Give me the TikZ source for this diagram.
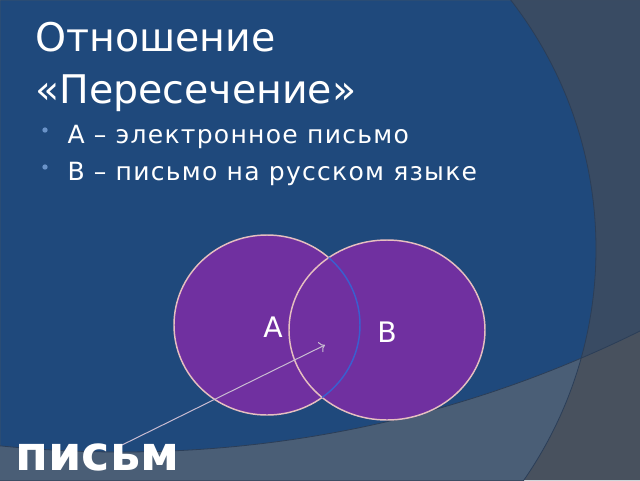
\documentclass[tikz,border=0pt]{standalone}
\usepackage{fontspec}
\setmainfont{DejaVu Sans}
\newfontfamily\titlefont{DejaVu Sans}
\newfontfamily\listfont[LetterSpace=5]{DejaVu Sans}
\usetikzlibrary{arrows.meta}

\definecolor{slideblue}{HTML}{1F497C}
\definecolor{cornertop}{HTML}{394B63}
\definecolor{cornerlow}{HTML}{4A5E76}
\definecolor{cornerbot}{HTML}{48515E}
\definecolor{rimdark}{HTML}{2B3E58}
\definecolor{setpurple}{HTML}{7030A0}
\definecolor{setrim}{HTML}{E6BFC0}
\definecolor{lensblue}{HTML}{3A5FD0}
\definecolor{bulletblue}{HTML}{6A93C8}
\definecolor{pointer}{HTML}{C9BCD2}

\tikzset{every picture/.style={line width=0.75pt}}

\begin{document}
\begin{tikzpicture}[x=0.75pt,y=0.75pt,yscale=-1,xscale=1,
  title/.style={anchor=base west,inner sep=0pt,text=white,font=\titlefont\fontsize{29.6pt}{35pt}\selectfont},
  item/.style={anchor=base west,inner sep=0pt,text=white,font=\listfont\fontsize{18.8pt}{22pt}\selectfont},
  dot/.style={circle,fill=bulletblue,inner sep=0pt,minimum size=4pt},
  setlabel/.style={inner sep=0pt,text=white,font=\fontsize{21.2pt}{25pt}\selectfont},
  setshape/.style={fill=setpurple,draw=setrim,line width=1.1pt},
  word/.style={anchor=base west,inner sep=0pt,text=white,font=\bfseries\fontsize{35.8pt}{42pt}\selectfont}]
\useasboundingbox (0,0) rectangle (640,480);

%Background
\fill[slideblue] (0,0) rectangle (640,480);
\fill[cornertop,even odd rule] (0,0) rectangle (640,480) (190,249) circle [radius=406];
\fill[cornerbot,even odd rule] (0,0) rectangle (640,480) (121,-719) circle [radius=1171];
\begin{scope}
\clip (190,249) circle [radius=406];
\fill[cornerlow,even odd rule] (0,0) rectangle (640,480) (121,-719) circle [radius=1171];
\end{scope}
\draw[rimdark,line width=0.6pt] (190,249) circle [radius=406];
\draw[rimdark,line width=0.6pt] (121,-719) circle [radius=1171];

% Text Node
\node[title] (title1) at (35,51) {Отношение};
% Text Node
\node[title] (title2) at (35,103) {«Пересечение»};

%Bullets
\node[dot] (dotA) at (45,130) {};
\node[dot] (dotB) at (45,167) {};
% Text Node
\node[item] (itemA) at (67,143) {А – электронное письмо};
% Text Node
\node[item] (itemB) at (67,180) {В – письмо на русском языке};

%Shape: Ellipse
\filldraw[setshape] (267,325) ellipse [x radius=93,y radius=90];
%Shape: Ellipse
\filldraw[setshape] (387,330) ellipse [x radius=98,y radius=90];
\begin{scope}
\clip (387,330) ellipse [x radius=98,y radius=90];
\draw[lensblue,line width=1.1pt] (267,325) ellipse [x radius=93,y radius=90];
\end{scope}

% Text Node
\node[setlabel] (labelA) at (273,327) {А};
% Text Node
\node[setlabel] (labelB) at (387,332) {В};

%Straight Lines
\coordinate (tail) at (122,445);
\coordinate (head) at (325,345);
\draw[pointer,-{To[length=4pt]}] (tail) -- (head);

% Text Node
\node[word] (word) at (15,470) {письм};

\end{tikzpicture}
\end{document}
